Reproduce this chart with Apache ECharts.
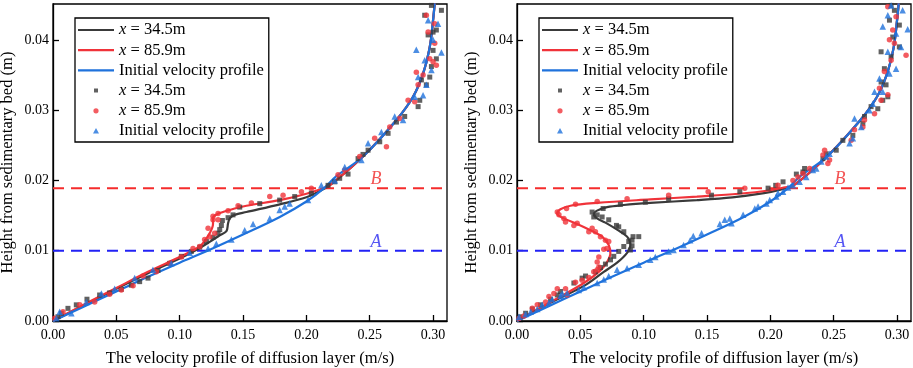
<!DOCTYPE html>
<html>
<head>
<meta charset="utf-8">
<script src="https://cdn.jsdelivr.net/npm/echarts@6/dist/echarts.min.js"></script>
<style>
  html, body { margin: 0; padding: 0; background: #fff; }
  #chart { width: 913px; height: 368px; }
</style>
</head>
<body>
<div id="chart"></div>
<script>
// velocity (m/s), height (m)
const blueLine = [[0,0],[0.025,0.0021],[0.05,0.0042],[0.075,0.0063],[0.10,0.0083],[0.122,0.0100],[0.15,0.0123],[0.179,0.0148],[0.200,0.0170],[0.214,0.0189],[0.2237,0.0206],[0.2447,0.0234],[0.2711,0.0286],[0.2842,0.0319],[0.2921,0.0352],[0.2974,0.0390],[0.300,0.0428],[0.3013,0.0452]];

const upperPart = [[0.2184,0.0193],[0.2447,0.0234],[0.2711,0.0286],[0.2842,0.0319],[0.2921,0.0352],[0.2974,0.0390],[0.300,0.0428],[0.3013,0.0452]];

const leftBlackLine = [[0,0],[0.025,0.0023],[0.05,0.0046],[0.075,0.0068],[0.10,0.0089],[0.113,0.0101],[0.124,0.0113],[0.1316,0.0122],[0.1369,0.0128],[0.1382,0.0139],[0.1395,0.0146],[0.1434,0.0151],[0.1527,0.0155],[0.179,0.0166],[0.200,0.0176],[0.2105,0.0185]].concat(upperPart);
const leftRedLine = [[0,0],[0.025,0.0024],[0.05,0.0047],[0.075,0.0070],[0.10,0.0091],[0.111,0.0101],[0.118,0.0110],[0.1237,0.0125],[0.1263,0.0138],[0.1263,0.0147],[0.1295,0.0152],[0.1395,0.0158],[0.1527,0.0164],[0.179,0.0172],[0.200,0.0181],[0.2105,0.0187]].concat(upperPart);

const rightBlackLine = [[0,0],[0.0265,0.0026],[0.0528,0.0050],[0.0685,0.0070],[0.079,0.0083],[0.0869,0.0097],[0.0895,0.0108],[0.0869,0.0120],[0.079,0.0130],[0.0698,0.0140],[0.0632,0.0146],[0.0606,0.0152],[0.0632,0.0157],[0.0711,0.0162],[0.0843,0.0165],[0.1052,0.0168],[0.142,0.0172],[0.17,0.0176],[0.195,0.0182],[0.208,0.0187]].concat(upperPart);
const rightRedLine = [[0,0],[0.0265,0.0027],[0.0528,0.0054],[0.0659,0.0072],[0.0711,0.0084],[0.0737,0.0096],[0.0724,0.0108],[0.0672,0.0120],[0.058,0.0129],[0.0475,0.0138],[0.037,0.0146],[0.0317,0.0153],[0.0343,0.0159],[0.0422,0.0164],[0.0632,0.0168],[0.1052,0.0173],[0.142,0.0177],[0.175,0.0181],[0.200,0.0186],[0.2105,0.0190]].concat(upperPart);

const leftBlackPts = [[0.0039,0.0006],[0.0066,0.0011],[0.0118,0.0018],[0.0184,0.0023],[0.0268,0.0031],[0.0368,0.0037],[0.0447,0.0040],[0.0539,0.0045],[0.0618,0.0051],[0.0684,0.0056],[0.0750,0.0061],[0.0829,0.0072],[0.0921,0.0082],[0.1013,0.0092],[0.1092,0.0099],[0.1158,0.0105],[0.1211,0.0113],[0.1263,0.0119],[0.1303,0.0125],[0.1316,0.0130],[0.1329,0.0136],[0.1337,0.0143],[0.1382,0.0147],[0.1421,0.0151],[0.1474,0.0162],[0.1632,0.0167],[0.1789,0.0172],[0.1908,0.0177],[0.2039,0.0182],[0.2171,0.0193],[0.2224,0.0198],[0.2263,0.0203],[0.2329,0.0209],[0.2408,0.0231],[0.2447,0.0237],[0.2487,0.0243],[0.2579,0.0255],[0.2645,0.0267],[0.2711,0.0283],[0.2776,0.0291],[0.2882,0.0305],[0.2895,0.0314],[0.2947,0.0336],[0.2908,0.0343],[0.2974,0.0347],[0.2987,0.0362],[0.3000,0.0385],[0.2961,0.0407],[0.3000,0.0411],[0.2934,0.0435],[0.3026,0.0414],[0.3066,0.0442],[0.2987,0.0449],[0.3026,0.0373]];
const leftRedPts = [[0.0013,0.0004],[0.0079,0.0013],[0.0211,0.0023],[0.0329,0.0027],[0.0447,0.0038],[0.0539,0.0044],[0.0632,0.0050],[0.0711,0.0064],[0.0816,0.0070],[0.0921,0.0082],[0.1013,0.0091],[0.1105,0.0103],[0.1158,0.0106],[0.1197,0.0116],[0.1237,0.0120],[0.1224,0.0132],[0.1276,0.0125],[0.1263,0.0144],[0.1263,0.0149],[0.1303,0.0144],[0.1303,0.0153],[0.1382,0.0157],[0.1461,0.0164],[0.1566,0.0168],[0.1711,0.0177],[0.1816,0.0179],[0.1961,0.0184],[0.2039,0.0189],[0.2250,0.0208],[0.2303,0.0215],[0.2421,0.0234],[0.2539,0.0260],[0.2632,0.0248],[0.2658,0.0276],[0.2737,0.0288],[0.2803,0.0314],[0.2855,0.0312],[0.2882,0.0336],[0.2868,0.0354],[0.2921,0.0350],[0.2974,0.0373],[0.3000,0.0369],[0.3026,0.0364],[0.3013,0.0395],[0.2961,0.0411],[0.2947,0.0435],[0.2974,0.0452],[0.3013,0.0423]];
const leftBluePts = [[0.0026,0.0004],[0.0053,0.0013],[0.0145,0.0011],[0.0263,0.0027],[0.0382,0.0039],[0.0487,0.0046],[0.0645,0.0061],[0.0789,0.0073],[0.0934,0.0082],[0.1079,0.0097],[0.1224,0.0103],[0.1289,0.0110],[0.1408,0.0116],[0.1513,0.0129],[0.1579,0.0138],[0.1711,0.0146],[0.1789,0.0158],[0.1829,0.0163],[0.1868,0.0167],[0.2013,0.0172],[0.2118,0.0193],[0.2224,0.0200],[0.2303,0.0219],[0.2434,0.0229],[0.2487,0.0253],[0.2592,0.0269],[0.2697,0.0291],[0.2763,0.0286],[0.2855,0.0319],[0.2921,0.0321],[0.2882,0.0347],[0.2947,0.0336],[0.2868,0.0386],[0.2934,0.0371],[0.2987,0.0357],[0.3066,0.0382],[0.3000,0.0400],[0.3039,0.0423],[0.2961,0.0428],[0.3000,0.0452]];

const rightBlackPts = [[0.0024,0.0006],[0.0068,0.0011],[0.0121,0.0017],[0.0186,0.0023],[0.0265,0.0031],[0.0318,0.0037],[0.0344,0.0042],[0.0449,0.0054],[0.0514,0.0061],[0.0541,0.0064],[0.0619,0.0070],[0.0659,0.0076],[0.0698,0.0081],[0.0738,0.0087],[0.0764,0.0092],[0.0803,0.0099],[0.0843,0.0106],[0.0882,0.0113],[0.0895,0.0101],[0.0908,0.0107],[0.0908,0.0115],[0.0916,0.0120],[0.0961,0.0120],[0.0843,0.0127],[0.0803,0.0134],[0.0785,0.0136],[0.0724,0.0144],[0.0672,0.0148],[0.0633,0.0151],[0.0593,0.0155],[0.0606,0.0148],[0.0680,0.0160],[0.0816,0.0166],[0.1013,0.0169],[0.1197,0.0174],[0.1535,0.0179],[0.1759,0.0184],[0.1982,0.0189],[0.2042,0.0193],[0.2100,0.0198],[0.2205,0.0209],[0.2257,0.0212],[0.2270,0.0217],[0.2415,0.0231],[0.2441,0.0238],[0.2520,0.0243],[0.2572,0.0257],[0.2651,0.0264],[0.2730,0.0281],[0.2743,0.0291],[0.2795,0.0305],[0.2848,0.0302],[0.2887,0.0314],[0.2927,0.0319],[0.2874,0.0340],[0.2913,0.0336],[0.2900,0.0359],[0.2874,0.0383],[0.2953,0.0376],[0.3018,0.0390],[0.2966,0.0404],[0.2940,0.0428],[0.3018,0.0421],[0.2979,0.0442],[0.2953,0.0449]];
const rightRedPts = [[0.0016,0.0004],[0.0055,0.0007],[0.0121,0.0018],[0.0160,0.0023],[0.0226,0.0027],[0.0252,0.0035],[0.0291,0.0039],[0.0318,0.0046],[0.0383,0.0046],[0.0396,0.0037],[0.0462,0.0055],[0.0514,0.0058],[0.0567,0.0062],[0.0606,0.0070],[0.0633,0.0073],[0.0646,0.0077],[0.0633,0.0084],[0.0646,0.0091],[0.0685,0.0102],[0.0709,0.0103],[0.0698,0.0115],[0.0724,0.0113],[0.0659,0.0120],[0.0619,0.0127],[0.0593,0.0132],[0.0567,0.0127],[0.0475,0.0139],[0.0449,0.0136],[0.0383,0.0141],[0.0370,0.0146],[0.0318,0.0155],[0.0331,0.0151],[0.0391,0.0160],[0.0462,0.0166],[0.0633,0.0170],[0.0869,0.0174],[0.1197,0.0179],[0.1509,0.0184],[0.1798,0.0189],[0.2060,0.0193],[0.2178,0.0200],[0.2218,0.0205],[0.2257,0.0210],[0.2310,0.0217],[0.2428,0.0243],[0.2415,0.0236],[0.2467,0.0229],[0.2454,0.0224],[0.2638,0.0257],[0.2664,0.0272],[0.2730,0.0276],[0.2743,0.0286],[0.2822,0.0295],[0.2874,0.0314],[0.2927,0.0322],[0.2861,0.0331],[0.2900,0.0355],[0.2953,0.0371],[0.2979,0.0395],[0.2940,0.0400],[0.3071,0.0378],[0.2966,0.0414],[0.2992,0.0433],[0.2927,0.0447],[0.3018,0.0454]];
const rightBluePts = [[0.0016,0.0006],[0.0068,0.0010],[0.0108,0.0013],[0.0160,0.0017],[0.0199,0.0023],[0.0252,0.0026],[0.0278,0.0031],[0.0344,0.0036],[0.0357,0.0039],[0.0396,0.0040],[0.0488,0.0044],[0.0528,0.0048],[0.0633,0.0054],[0.0685,0.0059],[0.0724,0.0064],[0.0790,0.0073],[0.0869,0.0075],[0.0961,0.0080],[0.1052,0.0087],[0.1092,0.0091],[0.1197,0.0099],[0.1236,0.0101],[0.1315,0.0108],[0.1367,0.0115],[0.1391,0.0121],[0.1457,0.0125],[0.1601,0.0138],[0.1640,0.0144],[0.1680,0.0146],[0.1693,0.0139],[0.1785,0.0151],[0.1877,0.0160],[0.1903,0.0163],[0.1969,0.0167],[0.1995,0.0172],[0.2047,0.0177],[0.2060,0.0182],[0.2100,0.0184],[0.2139,0.0190],[0.2178,0.0193],[0.2231,0.0198],[0.2283,0.0205],[0.2336,0.0215],[0.2362,0.0217],[0.2402,0.0227],[0.2441,0.0234],[0.2467,0.0238],[0.2625,0.0253],[0.2651,0.0260],[0.2664,0.0288],[0.2717,0.0276],[0.2782,0.0300],[0.2808,0.0309],[0.2822,0.0326],[0.2887,0.0326],[0.2940,0.0352],[0.2861,0.0345],[0.2992,0.0359],[0.2927,0.0383],[0.3031,0.0390],[0.2992,0.0409],[0.2887,0.0419],[0.3084,0.0415],[0.2927,0.0435],[0.3044,0.0442],[0.2953,0.0449]];

// reference levels A and B, label placed at this velocity
const levelA = 0.0100;
const levelB = 0.0189;
const levelLabelV = 0.255;

const xMin = 0, xMax = 0.311;
const yMin = 0, yMax = 0.0451;
const xTicks = [0, 0.05, 0.10, 0.15, 0.20, 0.25, 0.30];
const yTicks = [0, 0.01, 0.02, 0.03, 0.04];

const FONT = 'Liberation Serif';
const C_BLACK = '#3a3a3a';
const C_RED = '#f0333a';
const C_BLUE = '#1f72dc';

const labels = {
  l34: '{i|x} = 34.5m',
  l86: '{i|x} = 85.9m',
  lInit: 'Initial velocity profile',
  p34: '{i|x} = 34.5m',
  p86: '{i|x} = 85.9m',
  pInit: 'Initial velocity profile'
};

// legend icons: tiny degenerate corners keep the 36x14 box so the mark keeps its size
const box = 'M0,0h0.01v0.01zM36,14h-0.01v-0.01z';
const iconLine = 'path://' + box + 'M0,5.9h36v2.2h-36z';
const iconSquare = 'path://' + box + 'M16,5h4v4h-4z';
const iconCircle = 'path://' + box + 'M18,4.4a2.6,2.6 0 1 1 0,5.2a2.6,2.6 0 1 1 0,-5.2z';
const iconTri = 'path://' + box + 'M18,4l3,5.4h-6z';

const panels = [
  { black: leftBlackLine, red: leftRedLine, pb: leftBlackPts, pr: leftRedPts, pbl: leftBluePts, legendLeft: 75 },
  { black: rightBlackLine, red: rightRedLine, pb: rightBlackPts, pr: rightRedPts, pbl: rightBluePts, legendLeft: 539 }
];

const grids = [], xAxes = [], yAxes = [], legends = [], series = [];

panels.forEach(function (p, k) {
  const pre = k + '_';
  grids.push({
    left: k === 0 ? 53 : 517, top: 4, width: 394, height: 317,
    outerBoundsMode: 'none', containLabel: false,
    show: true, borderColor: '#000', borderWidth: 1.3
  });
  xAxes.push({
    gridIndex: k, type: 'value', min: xMin, max: xMax, interval: 0.05,
    name: 'The velocity profile of diffusion layer (m/s)', nameLocation: 'middle', nameGap: 29,
    nameTextStyle: { fontFamily: FONT, fontSize: 16.5, color: '#000' },
    axisLine: { show: true, lineStyle: { color: '#000', width: 1.3 } },
    axisTick: { show: true, inside: true, length: 6, lineStyle: { color: '#000', width: 1.3 } },
    axisLabel: { fontFamily: FONT, fontSize: 14, color: '#000', margin: 7, showMaxLabel: false,
      formatter: function (v) { return xTicks.some(t => Math.abs(t - v) < 1e-6) ? v.toFixed(2) : ''; } },
    splitLine: { show: false }
  });
  yAxes.push({
    gridIndex: k, type: 'value', min: yMin, max: yMax, interval: 0.01,
    name: 'Height from sedimentary bed (m)', nameLocation: 'middle', nameGap: 37,
    nameTextStyle: { fontFamily: FONT, fontSize: 16.5, color: '#000' },
    axisLine: { show: true, lineStyle: { color: '#000', width: 1.3 } },
    axisTick: { show: true, inside: true, length: 6, lineStyle: { color: '#000', width: 1.3 } },
    axisLabel: { fontFamily: FONT, fontSize: 14, color: '#000', margin: 4, showMaxLabel: false,
      formatter: function (v) { return yTicks.some(t => Math.abs(t - v) < 1e-7) ? v.toFixed(2) : ''; } },
    splitLine: { show: false }
  });

  // dashed reference lines with their letters
  [[levelB, 'B', '#f52c2c', '#f02828'], [levelA, 'A', '#2222f5', '#2a2af0']].forEach(function (lv) {
    series.push({
      type: 'line', xAxisIndex: k, yAxisIndex: k, silent: true, z: 1,
      data: [[xMin, lv[0]], [xMax, lv[0]]], symbol: 'none',
      lineStyle: { color: lv[2], width: 2, type: [11, 7] }
    });
    series.push({
      type: 'scatter', xAxisIndex: k, yAxisIndex: k, symbolSize: 0, silent: true, z: 5,
      data: [{ value: [levelLabelV, lv[0]], name: lv[1] }],
      label: { show: true, position: 'inside', offset: [0, -8.5], formatter: '{b}',
        fontFamily: FONT, fontStyle: 'italic', fontSize: 18, color: lv[3], textBorderWidth: 0 }
    });
  });

  [[p.black, 'l34', C_BLACK], [p.red, 'l86', C_RED], [blueLine, 'lInit', C_BLUE]].forEach(function (s) {
    series.push({
      type: 'line', name: pre + s[1], xAxisIndex: k, yAxisIndex: k, data: s[0],
      smooth: 0.35, symbol: 'none', showSymbol: false, z: 3,
      lineStyle: { color: s[2], width: 2.2 }, itemStyle: { color: s[2] }
    });
  });

  [[p.pb, 'p34', C_BLACK, 'rect', 5], [p.pr, 'p86', C_RED, 'circle', 5.5], [p.pbl, 'pInit', C_BLUE, 'triangle', 6.5]].forEach(function (s) {
    series.push({
      type: 'scatter', name: pre + s[1], xAxisIndex: k, yAxisIndex: k, data: s[0],
      symbol: s[3], symbolSize: s[4], z: 4, itemStyle: { color: s[2] }
    });
  });

  legends.push({
    left: p.legendLeft, top: 18, orient: 'vertical', selectedMode: false,
    itemWidth: 36, itemHeight: 14, itemGap: 3.2, padding: [3.5, 5, 2.5, 3],
    borderColor: '#000', borderWidth: 1.3,
    textStyle: { fontFamily: FONT, fontSize: 16.5, color: '#000', lineHeight: 17,
      rich: { i: { fontFamily: FONT, fontSize: 16.5, fontStyle: 'italic', color: '#000', lineHeight: 17 } } },
    formatter: function (name) { return labels[name.slice(2)]; },
    data: [
      { name: pre + 'l34', icon: iconLine }, { name: pre + 'l86', icon: iconLine }, { name: pre + 'lInit', icon: iconLine },
      { name: pre + 'p34', icon: iconSquare }, { name: pre + 'p86', icon: iconCircle }, { name: pre + 'pInit', icon: iconTri }
    ]
  });
});

const chart = echarts.init(document.getElementById('chart'), null, { renderer: 'canvas' });
chart.setOption({
  animation: false,
  backgroundColor: '#fff',
  grid: grids,
  xAxis: xAxes,
  yAxis: yAxes,
  legend: legends,
  series: series
});
</script>
</body>
</html>
